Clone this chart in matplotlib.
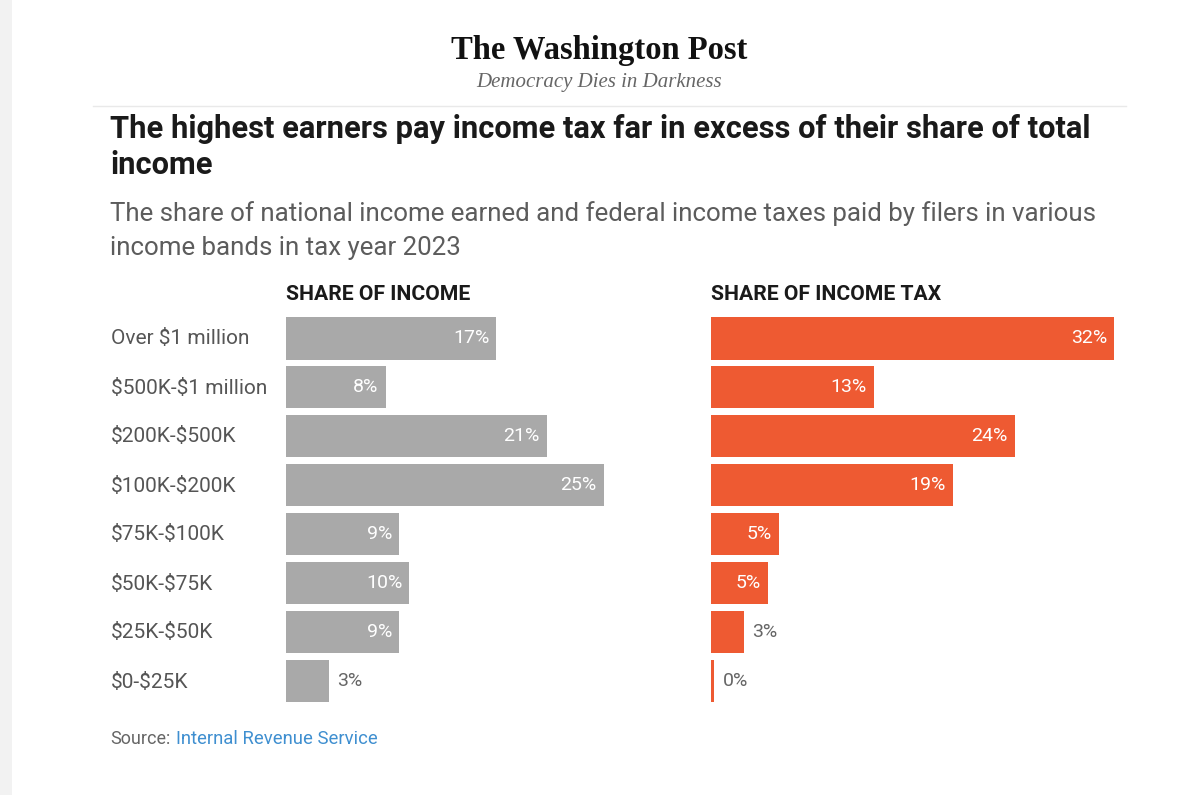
import matplotlib
matplotlib.use('Agg')
import matplotlib.pyplot as plt

# income bands, top to bottom
bands = ['Over $1 million', '$500K-$1 million', '$200K-$500K', '$100K-$200K',
         '$75K-$100K', '$50K-$75K', '$25K-$50K', '$0-$25K']
income_share = [16.7, 7.9, 20.7, 25.2, 9.0, 9.8, 9.0, 3.4]
income_labels = ['17%', '8%', '21%', '25%', '9%', '10%', '9%', '3%']
tax_share = [32.0, 12.9, 24.1, 19.2, 5.4, 4.5, 2.6, 0.25]
tax_labels = ['32%', '13%', '24%', '19%', '5%', '5%', '3%', '0%']

W, H = 1200, 795
GRAY = '#a9a9a9'
RED = '#ee5a32'
PX_PER_PCT = 12.6

plt.rcParams['font.family'] = ['Roboto', 'DejaVu Sans']

fig = plt.figure(figsize=(W/100, H/100), dpi=100, facecolor='white')


def px_text(x, y, s, **kw):
    # place text using pixel coords measured from the top left
    return fig.text(x/W, 1-y/H, s, va='center', parse_math=False, **kw)


# grey strip at the left edge and rule under the masthead
fig.add_artist(plt.Rectangle((0, 0), 12/W, 1, transform=fig.transFigure, color='#f2f2f2', lw=0))
fig.add_artist(plt.Line2D([93/W, 1126/W], [1-106/H]*2, color='#e9e9e9', lw=1))

px_text(599, 50, 'The Washington Post', ha='center', family='Liberation Serif',
        weight='bold', size=23.5, color='#111111')
px_text(599, 82, 'Democracy Dies in Darkness', ha='center', family='Liberation Serif',
        style='italic', size=15, color='#666666')

px_text(110, 129, 'The highest earners pay income tax far in excess of their share of total',
        weight='bold', size=22.2, color='#1a1a1a')
px_text(110, 165, 'income', weight='bold', size=22.2, color='#1a1a1a')
px_text(110, 214, 'The share of national income earned and federal income taxes paid by filers in various',
        size=18.6, color='#5c5c5c')
px_text(110, 248, 'income bands in tax year 2023', size=18.6, color='#5c5c5c')


def panel(left, width, values, labels, color, title):
    ax = fig.add_axes([left/W, 1-705/H, width/W, 390/H])
    rows = range(len(values))
    ax.barh(rows, values, height=0.86, color=color)
    ax.set_xlim(0, width/PX_PER_PCT)
    ax.set_ylim(7.49, -0.48)
    ax.axis('off')
    for i, (v, lab) in enumerate(zip(values, labels)):
        # small bars get their label outside in grey
        if v < 4:
            ax.annotate(lab, (v, i), xytext=(6, 0), textcoords='offset points',
                        va='center', ha='left', size=14, color='#666666')
        else:
            ax.annotate(lab, (v, i), xytext=(-5, 0), textcoords='offset points',
                        va='center', ha='right', size=14, color='white')
    px_text(left, 295, title, weight='bold', size=15.2, color='#1a1a1a')
    return ax


panel(286, 410, income_share, income_labels, GRAY, 'SHARE OF INCOME')
panel(711, 420, tax_share, tax_labels, RED, 'SHARE OF INCOME TAX')

for i, band in enumerate(bands):
    px_text(111, 339 + i*49, band, size=15, color='#555555')

px_text(110, 739, 'Source:', size=13, color='#666666')
px_text(176, 739, 'Internal Revenue Service', size=13.3, color='#3f8fd0')

fig.savefig('out.png', dpi=100)
